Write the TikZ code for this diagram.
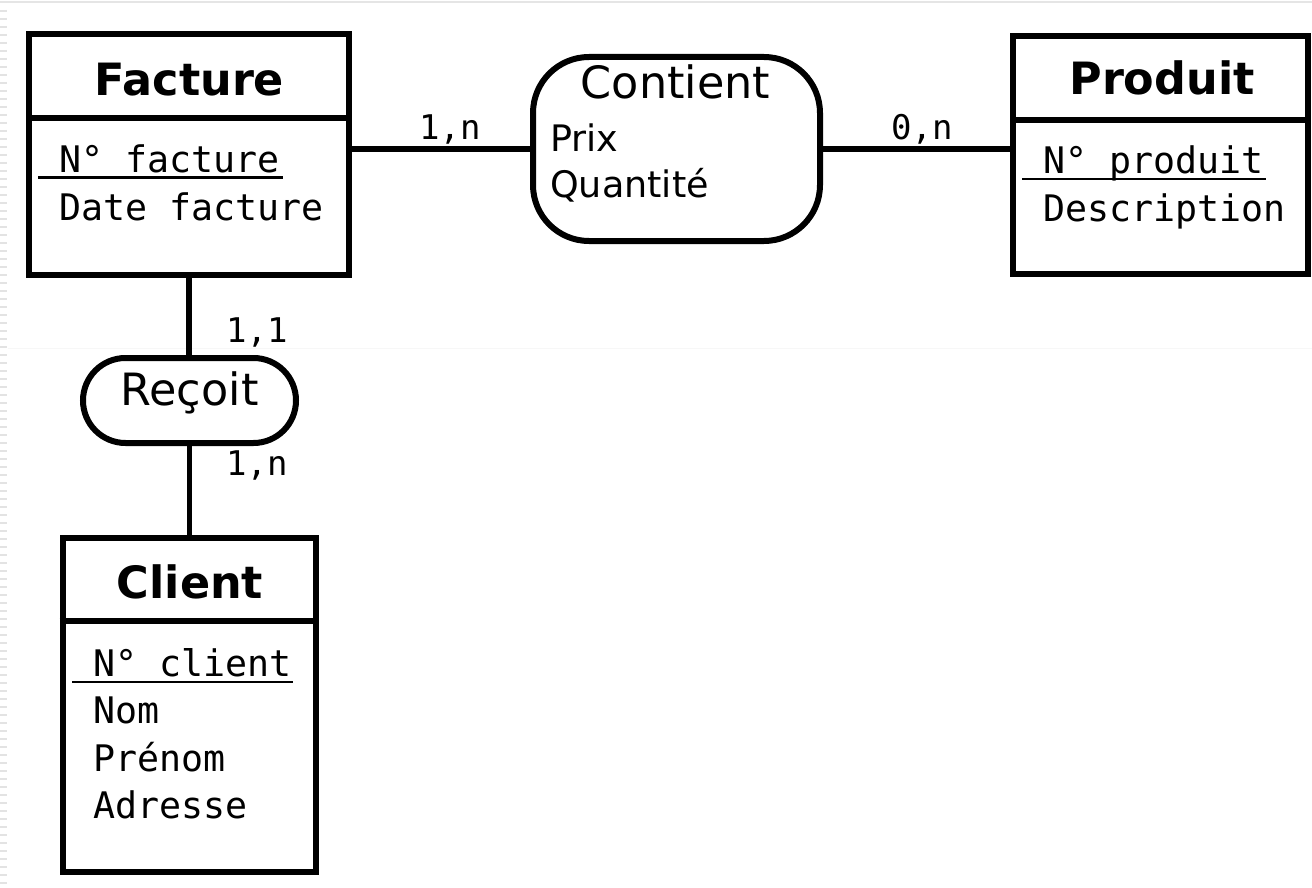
\documentclass[tikz,border=0pt]{standalone}
\usepackage{fontspec}
\newfontfamily\dvs{DejaVu Sans}
\newfontfamily\dvm{DejaVu Sans Mono}
\begin{document}
\begin{tikzpicture}[x=1pt,y=-1pt,
  box/.style={draw, line width=6pt, rectangle, inner sep=0pt},
  link/.style={line width=5.8pt},
  sepline/.style={line width=6pt},
  keyline/.style={line width=2.5pt},
  title/.style={anchor=base, inner sep=0pt, font=\fontsize{44.5}{50}\dvs\bfseries},
  attr/.style={anchor=base west, inner sep=0pt, font=\fontsize{36.6}{44}\dvm},
  card/.style={anchor=base west, inner sep=0pt, font=\fontsize{34}{40}\dvm},
  relname/.style={anchor=base, inner sep=0pt, font=\fontsize{44.5}{50}\dvs},
  relattr/.style={anchor=base west, inner sep=0pt, font=\fontsize{36.5}{42}\dvs}]
% canvas
\fill[white] (0,0) rectangle (1312,888);
\useasboundingbox (0,0) rectangle (1312,888);
\draw[gray!20, line width=2.5pt] (0,2) -- (1312,2);
\draw[gray!22, line width=7pt, dash pattern=on 2pt off 6pt] (3.5,10) -- (3.5,888);
\draw[gray!6, line width=1pt] (8,348) -- (1312,348);

% entities and relations
\node[box, minimum width=319.5pt, minimum height=240pt] (facture) at (188.75,154.5) {};
\node[box, minimum width=295pt, minimum height=238pt] (produit) at (1160.5,155) {};
\node[box, minimum width=253.5pt, minimum height=333.5pt] (client) at (189.25,704.75) {};
\node[box, rounded corners=56pt, minimum width=287pt, minimum height=184pt] (contient) at (676.5,149) {};
\node[box, rounded corners=42.5pt, minimum width=213pt, minimum height=85pt] (recoit) at (189.5,400.5) {};

% dividers
\draw[sepline] (facture.west |- 0,118.5) -- (facture.east |- 0,118.5);
\draw[sepline] (produit.west |- 0,120) -- (produit.east |- 0,120);
\draw[sepline] (client.west |- 0,621) -- (client.east |- 0,621);

% connectors
\draw[link] (contient.west -| facture.east) -- (contient.west);
\draw[link] (contient.east) -- (contient.east -| produit.west);
\draw[link] (facture.south) -- (recoit.north -| facture.south);
\draw[link] (recoit.south) -- (client.north -| recoit.south);

% titles
\node[title] (tfacture) at (189.5,95.7) {Facture};
\node[title] (tproduit) at (1162,95) {Produit};
\node[title] (tclient) at (190,598) {Client};

% attributes
\node[attr] (fa1) at (59,172.7) {N° facture};
\node[attr] (fa2) at (59,220) {Date facture};
\draw[keyline] (38,177.7) -- (282.7,177.7);

\node[attr] (pa1) at (1043,174) {N° produit};
\node[attr] (pa2) at (1043,221.5) {Description};
\draw[keyline] (1022,179) -- (1266,179);

\node[attr] (ca1) at (93,676) {N° client};
\node[attr] (ca2) at (93,723) {Nom};
\node[attr] (ca3) at (93,771) {Prénom};
\node[attr] (ca4) at (93,818) {Adresse};
\draw[keyline] (72,682) -- (293,682);

% relation texts
\node[relname] (tcontient) at (675.5,99) {Contient};
\node[relattr] (ra1) at (550,152) {Prix};
\node[relattr] (ra2) at (550,197.5) {Quantité};
\node[relname] (trecoit) at (189.5,405.5) {Reçoit};

% cardinalities
\node[card] (c1) at (419,140) {1,n};
\node[card] (c2) at (891,140) {0,n};
\node[card] (c3) at (226,342) {1,1};
\node[card] (c4) at (226,475) {1,n};
\end{tikzpicture}
\end{document}
